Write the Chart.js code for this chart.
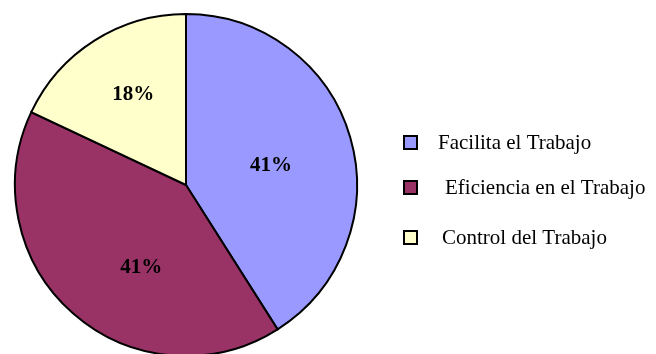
<!DOCTYPE html>
<html>
<head>
<meta charset="utf-8">
<script src="https://cdn.jsdelivr.net/npm/chart.js@4/dist/chart.umd.min.js"></script>
<style>
  html, body { margin: 0; padding: 0; background: #fff; overflow: hidden; }
  #caja { width: 656px; height: 360px; }
</style>
</head>
<body>
<div id="caja"><canvas id="graficoPastel"></canvas></div>
<script>
const categorias = ["Facilita el Trabajo", "Eficiencia en el Trabajo", "Control del Trabajo"];
const valores = [41, 41, 18];
const etiquetas = ["41%", "41%", "18%"];
const colores = ["#9999ff", "#993366", "#ffffcc"];

// etiquetas dentro de cada porción (ángulo extra en grados, fracción del radio)
const posEtiquetas = [[3, 0.51], [-13, 0.55], [2, 0.61]];

const etiquetasPastel = {
    id: "etiquetasPastel",
    afterDatasetsDraw(chart) {
        const ctx = chart.ctx;
        const meta = chart.getDatasetMeta(0);
        ctx.save();
        ctx.font = "bold 21px 'Liberation Serif'";
        ctx.fillStyle = "#000";
        ctx.textAlign = "center";
        ctx.textBaseline = "middle";
        meta.data.forEach((arco, i) => {
            const p = arco.getProps(["x", "y", "startAngle", "endAngle", "outerRadius"], true);
            const ang = (p.startAngle + p.endAngle) / 2 + posEtiquetas[i][0] * Math.PI / 180;
            const r = p.outerRadius * posEtiquetas[i][1];
            ctx.fillText(etiquetas[i], p.x + r * Math.cos(ang), p.y + r * Math.sin(ang));
        });
        ctx.restore();
    }
};

// leyenda a la derecha, como en el original
const leyenda = {
    id: "leyenda",
    afterDraw(chart) {
        const ctx = chart.ctx;
        const filas = [142, 187, 237];
        const textoX = [438, 445, 442];
        ctx.save();
        ctx.font = "21px 'Liberation Serif'";
        ctx.textBaseline = "middle";
        categorias.forEach((cat, i) => {
            ctx.fillStyle = colores[i];
            ctx.fillRect(404, filas[i] - 6, 13, 13);
            ctx.lineWidth = 2;
            ctx.strokeStyle = "#000";
            ctx.strokeRect(404, filas[i] - 6, 13, 13);
            ctx.fillStyle = "#000";
            ctx.fillText(cat, textoX[i], filas[i] + 1);
        });
        ctx.restore();
    }
};

new Chart(document.getElementById("graficoPastel"), {
    type: "pie",
    data: {
        labels: categorias,
        datasets: [{
            data: valores,
            backgroundColor: colores,
            borderColor: "#000",
            borderWidth: 2,
            borderJoinStyle: "miter"
        }]
    },
    options: {
        responsive: true,
        maintainAspectRatio: false,
        animation: false,
        layout: { padding: { left: 14, right: 298, top: 13, bottom: 3 } },
        plugins: { legend: { display: false }, tooltip: { enabled: false } }
    },
    plugins: [etiquetasPastel, leyenda]
});
</script>
</body>
</html>
